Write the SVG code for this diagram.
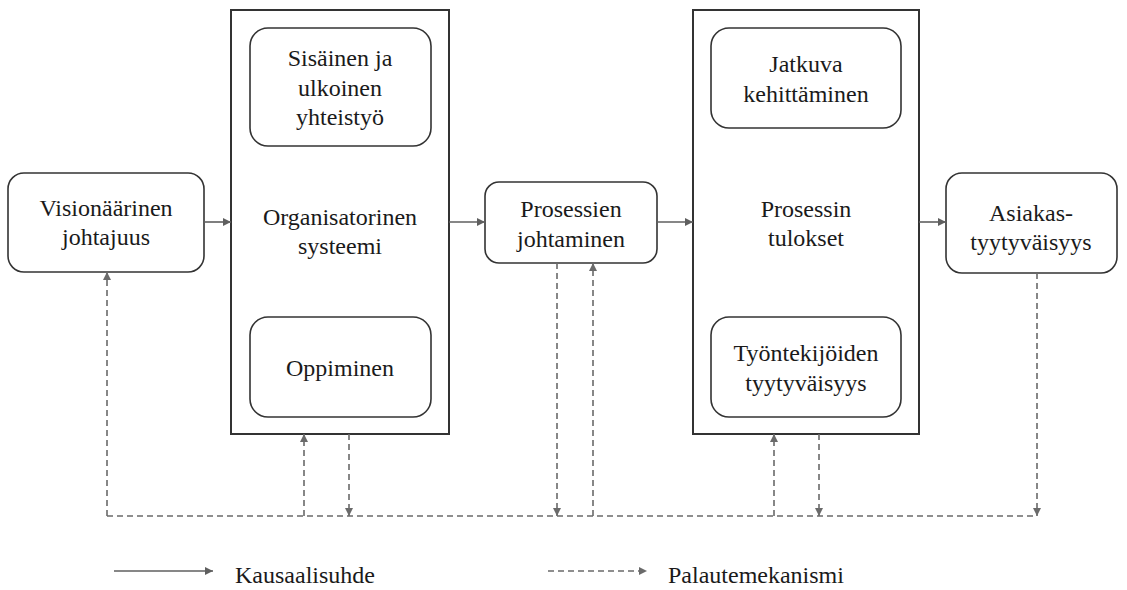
<svg xmlns="http://www.w3.org/2000/svg" width="1127" height="590" viewBox="0 0 1127 590">
  <style>
    .box { fill: #ffffff; stroke: #333333; stroke-width: 1.6; }
    .frame { fill: #ffffff; stroke: #333333; stroke-width: 2; }
    .lbl { font-family: "Liberation Serif", "Times New Roman", "DejaVu Serif", serif; font-size: 24px; fill: #1a1a1a; text-anchor: middle; }
    .leg { font-family: "Liberation Serif", "Times New Roman", "DejaVu Serif", serif; font-size: 24px; fill: #1a1a1a; }
    .causal { fill: none; stroke: #5f5f5f; stroke-width: 1.6; marker-end: url(#arrow); }
    .feedback { fill: none; stroke: #6a6a6a; stroke-width: 1.6; stroke-dasharray: 6 4; }
    .fb-arrow { marker-end: url(#arrowGray); }
  </style>
  <defs>
    <marker id="arrow" viewBox="0 0 10 10" refX="10" refY="5" markerWidth="8" markerHeight="8" markerUnits="userSpaceOnUse" orient="auto">
      <path d="M0,0 L10,5 L0,10 z" fill="#5f5f5f"/>
    </marker>
    <marker id="arrowGray" viewBox="0 0 10 10" refX="10" refY="5" markerWidth="8" markerHeight="8" markerUnits="userSpaceOnUse" orient="auto">
      <path d="M0,0 L10,5 L0,10 z" fill="#6a6a6a"/>
    </marker>
  </defs>

  <!-- Visionary leadership -->
  <g id="visionaarinen">
    <rect class="box" x="8" y="173" width="196" height="99" rx="16"/>
    <text class="lbl" x="106" y="216">Visionäärinen</text>
    <text class="lbl" x="106" y="245">johtajuus</text>
  </g>

  <!-- Organisational system with its two components -->
  <g id="organisaatio">
    <rect class="frame" x="231" y="10" width="218" height="424"/>
    <text class="lbl" x="340" y="225">Organisatorinen</text>
    <text class="lbl" x="340" y="254">systeemi</text>
  </g>
  <g id="yhteistyo">
    <rect class="box" x="250" y="28" width="181" height="118" rx="18"/>
    <text class="lbl" x="340" y="66">Sisäinen ja</text>
    <text class="lbl" x="340" y="96">ulkoinen</text>
    <text class="lbl" x="340" y="125">yhteistyö</text>
  </g>
  <g id="oppiminen">
    <rect class="box" x="250" y="317" width="181" height="100" rx="18"/>
    <text class="lbl" x="340" y="376">Oppiminen</text>
  </g>

  <!-- Process management -->
  <g id="prosessien-johtaminen">
    <rect class="box" x="485" y="182" width="172" height="81" rx="14"/>
    <text class="lbl" x="571" y="217">Prosessien</text>
    <text class="lbl" x="571" y="247">johtaminen</text>
  </g>

  <!-- Process results with its two components -->
  <g id="prosessin-tulokset">
    <rect class="frame" x="693" y="10" width="226" height="424"/>
    <text class="lbl" x="806" y="217">Prosessin</text>
    <text class="lbl" x="806" y="246">tulokset</text>
  </g>
  <g id="jatkuva-kehittaminen">
    <rect class="box" x="711" y="28" width="190" height="100" rx="18"/>
    <text class="lbl" x="806" y="72">Jatkuva</text>
    <text class="lbl" x="806" y="102">kehittäminen</text>
  </g>
  <g id="tyontekijat">
    <rect class="box" x="711" y="317" width="190" height="100" rx="18"/>
    <text class="lbl" x="806" y="361">Työntekijöiden</text>
    <text class="lbl" x="806" y="391">tyytyväisyys</text>
  </g>

  <!-- Customer satisfaction -->
  <g id="asiakastyytyvaisyys">
    <rect class="box" x="946" y="173" width="171" height="100" rx="16"/>
    <text class="lbl" x="1031" y="221">Asiakas-</text>
    <text class="lbl" x="1031" y="250">tyytyväisyys</text>
  </g>

  <!-- Connectors -->
  <g id="connectors">
    <!-- causal chain -->
    <line class="causal" x1="204" y1="222" x2="231" y2="222"/>
    <line class="causal" x1="449" y1="222" x2="485" y2="222"/>
    <line class="causal" x1="657" y1="222" x2="693" y2="222"/>
    <line class="causal" x1="919" y1="222" x2="946" y2="222"/>

    <!-- feedback loop -->
    <line class="feedback" x1="107" y1="516" x2="1037" y2="516"/>
    <line class="feedback fb-arrow" x1="107" y1="516" x2="107" y2="272"/>
    <line class="feedback fb-arrow" x1="304" y1="516" x2="304" y2="434"/>
    <line class="feedback fb-arrow" x1="349" y1="434" x2="349" y2="516"/>
    <line class="feedback fb-arrow" x1="557" y1="263" x2="557" y2="516"/>
    <line class="feedback fb-arrow" x1="593" y1="516" x2="593" y2="263"/>
    <line class="feedback fb-arrow" x1="774" y1="516" x2="774" y2="434"/>
    <line class="feedback fb-arrow" x1="819" y1="434" x2="819" y2="516"/>
    <line class="feedback fb-arrow" x1="1037" y1="273" x2="1037" y2="516"/>
  </g>

  <!-- Legend -->
  <g id="legend">
    <line class="causal" x1="114" y1="571" x2="213" y2="571"/>
    <text class="leg" x="235" y="583">Kausaalisuhde</text>
    <line class="feedback fb-arrow" x1="548" y1="571" x2="647" y2="571"/>
    <text class="leg" x="668" y="583">Palautemekanismi</text>
  </g>
</svg>
